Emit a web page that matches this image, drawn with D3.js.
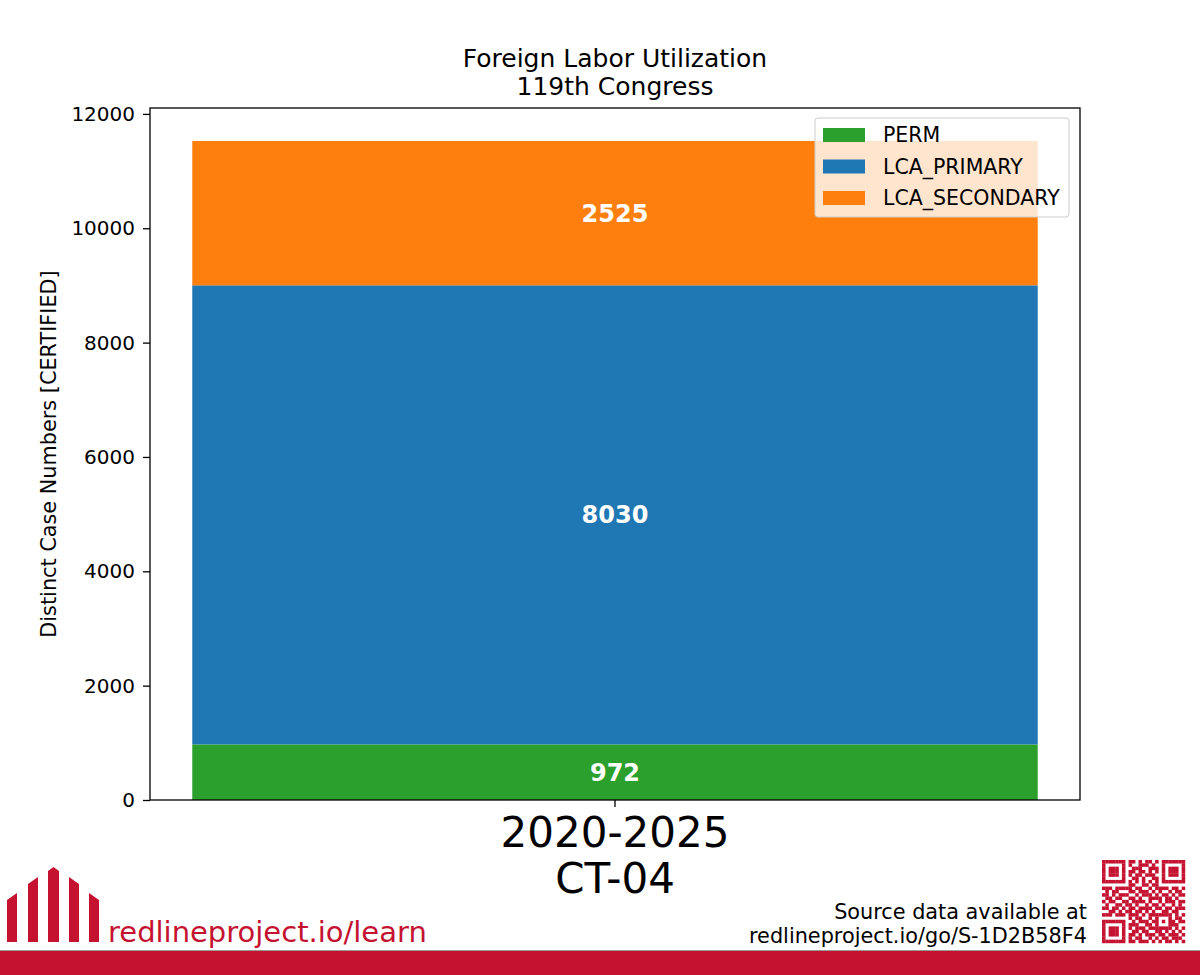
<!DOCTYPE html>
<html>
<head>
<meta charset="utf-8">
<script src="https://cdn.jsdelivr.net/npm/d3@7"></script>
<style>
  body { margin: 0; background: #fff; }
  svg text { font-family: "DejaVu Sans", sans-serif; }
</style>
</head>
<body>
<svg id="chart" width="1200" height="975"></svg>
<script>
// data
const categories = ["2020-2025\nCT-04"];
const seriesNames = ["PERM", "LCA_PRIMARY", "LCA_SECONDARY"];
const permValues = [972];
const lcaPrimaryValues = [8030];
const lcaSecondaryValues = [2525];
const yTicks = [0, 2000, 4000, 6000, 8000, 10000, 12000];
const titleLines = ["Foreign Labor Utilization", "119th Congress"];

const colors = { PERM: "#2ca02c", LCA_PRIMARY: "#1f77b4", LCA_SECONDARY: "#ff7f0e" };
const red = "#c41230";

const svg = d3.select("#chart");
const margin = { top: 108, right: 120, bottom: 175, left: 150 };
const width = 1200 - margin.left - margin.right;
const height = 975 - margin.top - margin.bottom;

// build stacked rows
const rows = categories.map((c, i) => ({
  cat: c,
  PERM: permValues[i],
  LCA_PRIMARY: lcaPrimaryValues[i],
  LCA_SECONDARY: lcaSecondaryValues[i]
}));
const stack = d3.stack().keys(seriesNames)(rows);
const maxTotal = d3.max(rows, d => d.PERM + d.LCA_PRIMARY + d.LCA_SECONDARY);

// bar width 0.8 with 5% margins, like matplotlib
const x = d3.scaleBand()
  .domain(categories)
  .range([0, width])
  .paddingInner(0)
  .paddingOuter(0.05);

const y = d3.scaleLinear()
  .domain([0, maxTotal * 1.05])
  .range([height, 0]);

const g = svg.append("g")
  .attr("transform", "translate(" + margin.left + "," + margin.top + ")");

// bars
const layers = g.selectAll(".layer")
  .data(stack)
  .enter().append("g")
  .attr("class", "layer")
  .attr("fill", d => colors[d.key]);

layers.selectAll("rect")
  .data(d => d)
  .enter().append("rect")
  .attr("x", d => x(d.data.cat))
  .attr("width", x.bandwidth())
  .attr("y", d => y(d[1]))
  .attr("height", d => y(d[0]) - y(d[1]));

layers.selectAll("text")
  .data(d => d)
  .enter().append("text")
  .attr("x", d => x(d.data.cat) + x.bandwidth() / 2)
  .attr("y", d => (y(d[0]) + y(d[1])) / 2)
  .attr("dy", "0.35em")
  .attr("text-anchor", "middle")
  .attr("fill", "#fff")
  .style("font-size", "24px")
  .style("font-weight", "bold")
  .text(d => d[1] - d[0]);

// axes
const yAxis = g.append("g")
  .call(d3.axisLeft(y).tickValues(yTicks).tickFormat(d3.format("d")).tickSize(7).tickPadding(8));
yAxis.selectAll("text").style("font-size", "20px").attr("fill", "#000");
yAxis.select(".domain").remove();

const xAxis = g.append("g")
  .attr("transform", "translate(0," + height + ")")
  .call(d3.axisBottom(x).tickSize(7).tickFormat(""));
xAxis.select(".domain").remove();

xAxis.selectAll(".tick").each(function(d) {
  const t = d3.select(this).append("text")
    .attr("fill", "#000")
    .attr("text-anchor", "middle")
    .style("font-size", "42px");
  d.split("\n").forEach((line, i) => {
    t.append("tspan").attr("x", 0).attr("y", 47 + i * 46).text(line);
  });
});

g.selectAll(".tick line").attr("stroke", "#000").attr("stroke-width", 1.3);

// frame
g.append("rect")
  .attr("width", width)
  .attr("height", height)
  .attr("fill", "none")
  .attr("stroke", "#000")
  .attr("stroke-width", 1.3);

// y label
g.append("text")
  .attr("transform", "rotate(-90)")
  .attr("x", -height / 2)
  .attr("y", -94)
  .attr("text-anchor", "middle")
  .style("font-size", "20.8px")
  .text("Distinct Case Numbers [CERTIFIED]");

// title
svg.append("g").selectAll("text")
  .data(titleLines)
  .enter().append("text")
  .attr("x", margin.left + width / 2)
  .attr("y", (d, i) => 67 + i * 28)
  .attr("text-anchor", "middle")
  .style("font-size", "25px")
  .text(d => d);

// legend
const legend = svg.append("g").attr("transform", "translate(815,118)");
legend.append("rect")
  .attr("width", 254)
  .attr("height", 99)
  .attr("rx", 3)
  .attr("fill", "#fff")
  .attr("fill-opacity", 0.8)
  .attr("stroke", "#ccc")
  .attr("stroke-width", 1);
const items = legend.selectAll(".item")
  .data(seriesNames)
  .enter().append("g")
  .attr("class", "item")
  .attr("transform", (d, i) => "translate(0," + (17 + i * 31.5) + ")");
items.append("rect")
  .attr("x", 8)
  .attr("y", -7)
  .attr("width", 42)
  .attr("height", 14)
  .attr("fill", d => colors[d]);
items.append("text")
  .attr("x", 68)
  .attr("dy", "0.35em")
  .style("font-size", "20.5px")
  .text(d => d);

// footer
svg.append("rect")
  .attr("x", 0).attr("y", 951)
  .attr("width", 1200).attr("height", 24)
  .attr("fill", red);
svg.append("line")
  .attr("x1", 0).attr("x2", 1200)
  .attr("y1", 950.5).attr("y2", 950.5)
  .attr("stroke", "#999").attr("stroke-width", 1);

// logo bars: [left, right, top-left, top-right]
const logoBars = [[7, 17, 900, 893], [28, 38, 884, 877], [48, 59, 870, 870], [69, 79, 877, 884], [89, 99, 893, 900]];
const logo = svg.append("g").attr("fill", red);
logoBars.forEach(b => {
  const pts = b[0] === 48
    ? [[b[0], 942], [b[0], 871], [(b[0] + b[1]) / 2, 867], [b[1], 871], [b[1], 942]]
    : [[b[0], 942], [b[0], b[2]], [b[1], b[3]], [b[1], 942]];
  logo.append("polygon").attr("points", pts.map(p => p.join(",")).join(" "));
});
svg.append("text")
  .attr("x", 108)
  .attr("y", 942)
  .attr("fill", red)
  .style("font-size", "29px")
  .text("redlineproject.io/learn");

const src = svg.append("g");
["Source data available at", "redlineproject.io/go/S-1D2B58F4"].forEach((t, i) => {
  src.append("text")
    .attr("x", 1087)
    .attr("y", 919 + i * 24)
    .attr("text-anchor", "end")
    .style("font-size", "20.8px")
    .text(t);
});

// QR code (approximate module layout)
const qr = [
  "1111111011010110101111111",
  "1000001010011101001000001",
  "1011101001110011101011101",
  "1011101011011010101011101",
  "1011101010110111001011101",
  "1000001001101001101000001",
  "1111111010101010101111111",
  "0000000011001101100000000",
  "1110111110110010111101101",
  "0101100011011101010010110",
  "1101011100101110101101011",
  "0110110011010011110110100",
  "1011001101111010010111011",
  "0100110110100101101001010",
  "1101101011011110110110111",
  "0011010110110101001101100",
  "1110111011101011111110101",
  "0000000010110010100010110",
  "1111111001011101101011011",
  "1000001011100110100011100",
  "1011101010111011111110101",
  "1011101001101100110101010",
  "1011101011010111011011101",
  "1000001010110010101101110",
  "1111111011011101010110101"
];
const qrSize = 83 / 25;
const qrG = svg.append("g").attr("transform", "translate(1102,860)").attr("fill", red);
qr.forEach((row, r) => {
  row.split("").forEach((c, k) => {
    if (c === "1") {
      qrG.append("rect")
        .attr("x", k * qrSize).attr("y", r * qrSize)
        .attr("width", qrSize + 0.2).attr("height", qrSize + 0.2);
    }
  });
});
</script>
</body>
</html>
